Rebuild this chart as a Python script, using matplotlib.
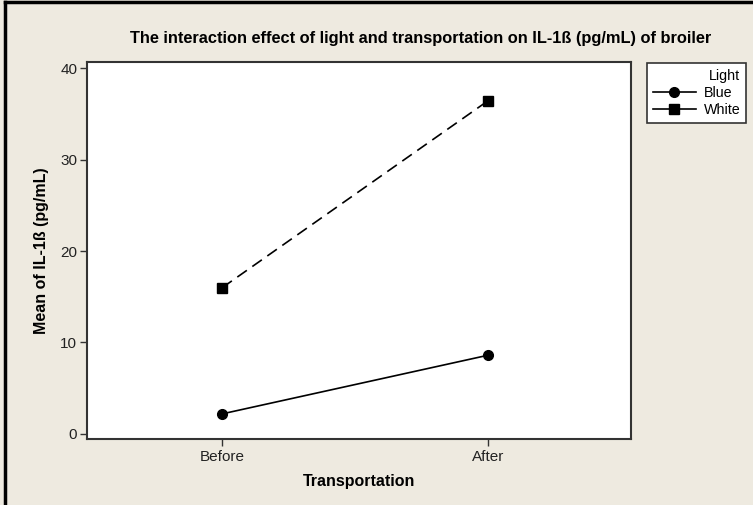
import matplotlib.pyplot as plt
from matplotlib.lines import Line2D

# data
transport = ["Before", "After"]
blue_means = [2.2, 8.6]
white_means = [16.0, 36.4]
y_ticks = [0, 10, 20, 30, 40]

bg = "#EEEAE0"
plt.rcParams["font.family"] = ["Liberation Sans", "DejaVu Sans"]

fig = plt.figure(figsize=(7.53, 5.05), dpi=100, facecolor=bg)
ax = fig.add_axes([0.1155, 0.1307, 0.7225, 0.7465])
ax.set_facecolor("white")

x = [1, 2]
ax.plot(x, blue_means, color="black", lw=1.2, marker="o", ms=7, label="Blue")
ax.plot(x, white_means, color="black", lw=1.2, ls=(0, (7, 4)), marker="s", ms=7,
        label="White")

ax.set_xlim(0.49, 2.54)
ax.set_ylim(-0.55, 40.66)
ax.set_xticks(x)
ax.set_xticklabels(transport)
ax.set_yticks(y_ticks)
ax.tick_params(direction="out", length=5, width=1, color="#333333",
               labelsize=11, labelcolor="#222222", pad=3)
ax.tick_params(axis="y", pad=2)
for s in ax.spines.values():
    s.set_color("#333333")
    s.set_linewidth(1.5)

ax.set_xlabel("Transportation", fontsize=11.5, fontweight="bold", labelpad=7)
ax.set_ylabel("Mean of IL-1ß (pg/mL)", fontsize=11.5, fontweight="bold", labelpad=8)
fig.text(0.558, 1 - 38 / 505, "The interaction effect of light and transportation on IL-1ß (pg/mL) of broiler",
         ha="center", va="center", fontsize=11.8, fontweight="bold")

handles = [
    Line2D([], [], color="black", lw=1.2, marker="o", ms=7),
    Line2D([], [], color="black", lw=1.2, marker="s", ms=7),
]
leg = fig.legend(handles, ["Blue", "White"], title="Light",
                 loc="upper left", bbox_to_anchor=(647 / 753, 1 - 63 / 505),
                 frameon=True, fancybox=False, fontsize=10.3, title_fontsize=10.3,
                 handlelength=3.0, borderpad=0.4, labelspacing=0.22,
                 handletextpad=0.55, borderaxespad=0, framealpha=1)
leg.get_frame().set_edgecolor("#333333")
leg.get_frame().set_linewidth(1.2)
leg.get_frame().set_facecolor("white")
leg._legend_box.align = "right"

# window frame edges
fig.add_artist(Line2D([5 / 753, 5 / 753], [0, 1 - 2 / 505], color="black", lw=2.5,
                      transform=fig.transFigure))
fig.add_artist(Line2D([5 / 753, 1], [1 - 2 / 505, 1 - 2 / 505], color="black", lw=2.5,
                      transform=fig.transFigure))

fig.savefig("out.png", dpi=100, facecolor=bg)
